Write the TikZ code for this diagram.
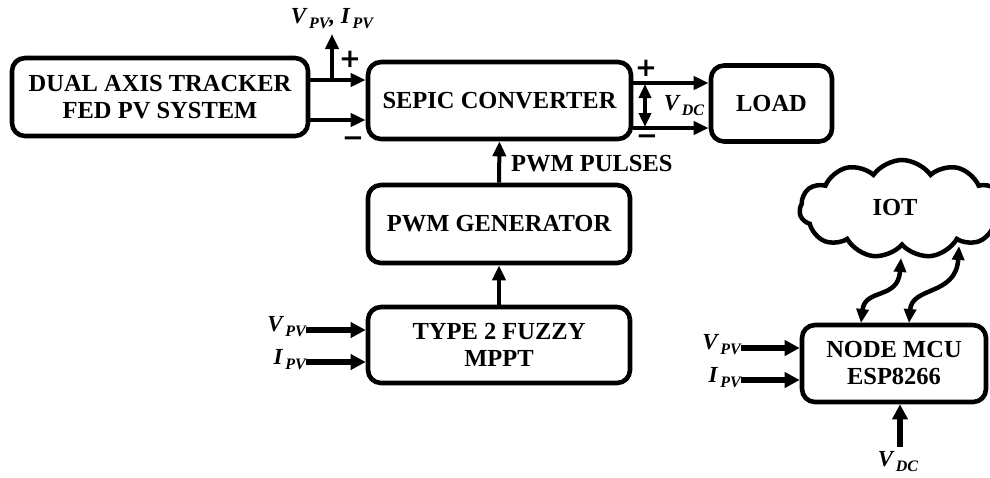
\documentclass[tikz,border=0pt]{standalone}
\usepackage{fontspec}
\setmainfont{Liberation Serif}
\newfontfamily\signfont{DejaVu Sans}
\usetikzlibrary{arrows.meta,shapes.symbols}
\newcommand\qsub[2]{#1\raisebox{-5pt}{\fontsize{16}{16}\selectfont\,#2}}
\begin{document}
\begin{tikzpicture}[x=1pt,y=-1pt,
  blk/.style={draw,line width=4.6pt,rounded corners=13pt,align=center,
    font=\fontsize{24.5}{27}\selectfont\bfseries,inner sep=0pt},
  conn/.style={line width=4pt,-{Triangle[length=15pt,width=13pt]}},
  dconn/.style={line width=4.5pt,{Triangle[length=14pt,width=12pt]}-{Triangle[length=14pt,width=12pt]}},
  inconn/.style={line width=6pt,-{Triangle[length=15pt,width=15pt]}},
  lbl/.style={font=\fontsize{23}{24}\selectfont\bfseries\itshape,inner sep=0pt},
  sign/.style={font=\signfont\fontsize{26}{26}\selectfont\bfseries,inner sep=0pt},
  txt/.style={font=\fontsize{24.5}{27}\selectfont\bfseries,inner sep=0pt}]
\useasboundingbox (0,0) rectangle (990,477);
\clip (0,0) rectangle (990,477);
% blocks
\node[blk,minimum width=296pt,minimum height=78pt] (dual) at (160,97) {DUAL AXIS TRACKER\\FED PV SYSTEM};
\node[blk,minimum width=263pt,minimum height=77pt] (sepic) at (499.5,100.5) {SEPIC CONVERTER};
\node[blk,minimum width=121pt,minimum height=76pt] (load) at (771.5,103.5) {LOAD};
\node[blk,minimum width=262pt,minimum height=78pt] (pwm) at (499,224) {PWM GENERATOR};
\node[blk,minimum width=262pt,minimum height=76pt] (fuzzy) at (499,345) {TYPE 2 FUZZY\\MPPT};
\node[blk,minimum width=184pt,minimum height=77pt] (mcu) at (894,363.5) {NODE MCU\\ESP8266};
\node[cloud,draw,cloud puffs=11,cloud puff arc=110,aspect=2,line width=4.5pt,
  minimum width=205pt,minimum height=98pt,inner sep=0pt] (iot) at (902,209) {};
\node[txt] (iottxt) at (895,208) {IOT};
% PV to SEPIC
\coordinate (tap) at (332,80);
\coordinate (pvtop) at (332,34);
\draw[conn] (dual.east |- tap) -- (sepic.west |- tap);
\draw[conn] (dual.east |- 0,120) -- (sepic.west |- 0,120);
\draw[conn] (tap) -- (pvtop);
\node[lbl] (pvlab) at (332,19) {\qsub{V}{PV}, \qsub{I}{PV}};
\node[sign] (p1) at (350,59) {+};
\node[sign] (m1) at (353,142) {−};
% SEPIC to LOAD
\draw[conn] (sepic.east |- 0,83) -- (load.west |- 0,83);
\draw[conn] (sepic.east |- 0,128) -- (load.west |- 0,128);
\coordinate (vt) at (645,84);
\coordinate (vb) at (645,127);
\draw[dconn] (vt) -- (vb);
\node[lbl] (vdc1) at (684,106) {\qsub{V}{DC}};
\node[sign] (p2) at (646,68) {+};
\node[sign] (m2) at (647,140) {−};
% PWM
\draw[conn] (pwm.north) -- (sepic.south);
\node[txt,anchor=west] (pwmlab) at (511,164) {PWM PULSES};
\draw[conn] (fuzzy.north) -- (pwm.south);
% fuzzy inputs
\node[lbl,anchor=east] (fv) at (306,327) {\qsub{V}{PV}};
\node[lbl,anchor=east] (fi) at (306,360) {\qsub{I}{PV}};
\coordinate (fva) at (306,330);
\coordinate (fia) at (306,362);
\draw[inconn] (fva) -- (fuzzy.west |- fva);
\draw[inconn] (fia) -- (fuzzy.west |- fia);
% MCU inputs
\node[lbl,anchor=east] (mv) at (741,345) {\qsub{V}{PV}};
\node[lbl,anchor=east] (mi) at (741,378) {\qsub{I}{PV}};
\coordinate (mva) at (741,348);
\coordinate (mia) at (741,380);
\draw[inconn] (mva) -- (mcu.west |- mva);
\draw[inconn] (mia) -- (mcu.west |- mia);
\node[lbl] (vdc2) at (898,462) {\qsub{V}{DC}};
\coordinate (vdcs) at (900,447);
\draw[inconn] (vdcs) -- (vdcs |- mcu.south);
% IoT links
\coordinate (a1) at (861,323);
\coordinate (b1) at (901,258);
\coordinate (a2) at (909,323);
\coordinate (b2) at (959,246);
\draw[dconn] (a1) .. controls (865,288) and (898,300) .. (b1);
\draw[dconn] (a2) .. controls (912,286) and (956,296) .. (b2);
\end{tikzpicture}
\end{document}
